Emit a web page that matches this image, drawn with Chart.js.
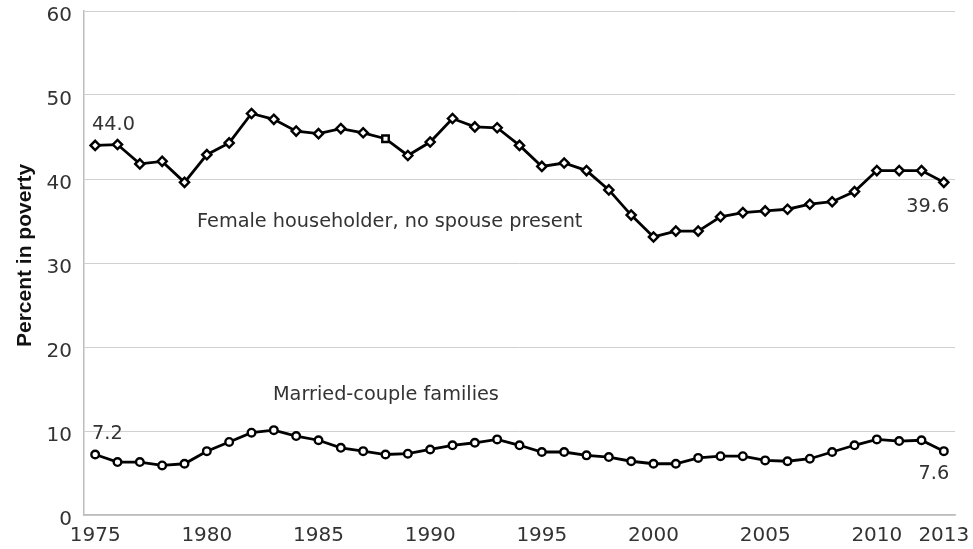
<!DOCTYPE html>
<html>
<head>
<meta charset="utf-8">
<script src="https://cdn.jsdelivr.net/npm/chart.js@4/dist/chart.umd.min.js"></script>
<style>
  html, body { margin: 0; padding: 0; background: #fff; }
  #wrap { width: 973px; height: 549px; position: relative; }
</style>
</head>
<body>
<div id="wrap"><canvas id="povertyChart"></canvas></div>
<script>
// Años (eje X)
const years = [1975, 1976, 1977, 1978, 1979, 1980, 1981, 1982, 1983, 1984, 1985,
  1986, 1987, 1988, 1989, 1990, 1991, 1992, 1993, 1994, 1995, 1996, 1997, 1998, 1999,
  2000, 2001, 2002, 2003, 2004, 2005, 2006, 2007, 2008, 2009, 2010, 2011, 2012, 2013];

// Porcentaje en pobreza
const femaleHouseholder = [44.0, 44.1, 41.8, 42.1, 39.6, 42.9, 44.3, 47.8, 47.1, 45.7, 45.4,
  46.0, 45.5, 44.8, 42.8, 44.4, 47.2, 46.2, 46.1, 44.0, 41.5, 41.9, 41.0, 38.7, 35.7,
  33.1, 33.8, 33.8, 35.5, 36.0, 36.2, 36.4, 37.0, 37.3, 38.5, 41.0, 41.0, 41.0, 39.6];

const marriedCouple = [7.2, 6.3, 6.3, 5.9, 6.1, 7.6, 8.7, 9.8, 10.1, 9.4, 8.9,
  8.0, 7.6, 7.2, 7.3, 7.8, 8.3, 8.6, 9.0, 8.3, 7.5, 7.5, 7.1, 6.9, 6.4,
  6.1, 6.1, 6.8, 7.0, 7.0, 6.5, 6.4, 6.7, 7.5, 8.3, 9.0, 8.8, 8.9, 7.6];

// Etiquetas de los ejes
const xTickYears = [1975, 1980, 1985, 1990, 1995, 2000, 2005, 2010, 2013];
const yTickValues = [0, 10, 20, 30, 40, 50, 60];
const yAxisTitle = 'Percent in poverty';
const squareMarkerYears = [1988];

// Textos sobre el gráfico (ancla en año / valor)
const annotations = [
  { text: '44.0', year: 1974.86, value: 46.4, align: 'left' },
  { text: 'Female householder, no spouse present', year: 1979.56, value: 34.9, align: 'left' },
  { text: '39.6', year: 2013.24, value: 36.7, align: 'right' },
  { text: 'Married-couple families', year: 1982.96, value: 14.3, align: 'left' },
  { text: '7.2', year: 1974.86, value: 9.6, align: 'left' },
  { text: '7.6', year: 2013.24, value: 4.9, align: 'right' },
];

const FONT = "'DejaVu Sans', sans-serif";

const toPoints = (vals) => vals.map((v, i) => ({ x: years[i], y: v }));

const annotationPlugin = {
  id: 'textAnnotations',
  afterDatasetsDraw(chart) {
    const { ctx, scales: { x, y } } = chart;
    ctx.save();
    ctx.font = `19.3px ${FONT}`;
    ctx.fillStyle = '#333';
    ctx.textBaseline = 'middle';
    for (const a of annotations) {
      ctx.textAlign = a.align;
      ctx.fillText(a.text, x.getPixelForValue(a.year), y.getPixelForValue(a.value));
    }
    ctx.restore();

    // Título del eje Y (rotado)
    ctx.save();
    ctx.translate(25, y.getPixelForValue(30.9));
    ctx.rotate(-Math.PI / 2);
    ctx.font = "bold 21px 'Liberation Sans', Arial, sans-serif";
    ctx.fillStyle = '#111';
    ctx.textAlign = 'center';
    ctx.textBaseline = 'middle';
    ctx.fillText(yAxisTitle, 0, 0);
    ctx.restore();
  },
};

const chart = new Chart(document.getElementById('povertyChart'), {
  type: 'line',
  data: {
    datasets: [
      {
        label: 'Female householder, no spouse present',
        data: toPoints(femaleHouseholder),
        borderColor: '#000',
        borderWidth: 2.8,
        pointStyle: (c) => squareMarkerYears.includes(years[c.dataIndex]) ? 'rect' : 'rectRot',
        pointRadius: 4.6,
        pointBorderWidth: 2.4,
        pointBackgroundColor: '#fff',
        pointBorderColor: '#000',
        tension: 0,
      },
      {
        label: 'Married-couple families',
        data: toPoints(marriedCouple),
        borderColor: '#000',
        borderWidth: 2.8,
        pointStyle: 'circle',
        pointRadius: 3.8,
        pointBorderWidth: 2.4,
        pointBackgroundColor: '#fff',
        pointBorderColor: '#000',
        tension: 0,
      },
    ],
  },
  options: {
    responsive: true,
    maintainAspectRatio: false,
    animation: false,
    layout: { padding: { top: 11, right: 18, left: 0, bottom: 0 } },
    plugins: {
      legend: { display: false },
      tooltip: { enabled: false },
    },
    scales: {
      x: {
        type: 'linear',
        min: 1974.5,
        max: 2013.5,
        afterBuildTicks: (scale) => { scale.ticks = xTickYears.map((v) => ({ value: v })); },
        afterFit: (scale) => { scale.height = 34; scale.paddingLeft = 0; scale.paddingRight = 0; },
        ticks: {
          autoSkip: false,
          maxRotation: 0,
          padding: 9,
          color: '#333',
          font: { family: FONT, size: 20 },
          callback: (v) => String(v),
        },
        grid: { display: false, drawTicks: false },
        border: { display: true, color: '#bdbdbd', width: 1.5 },
      },
      y: {
        min: 0,
        max: 60,
        afterBuildTicks: (scale) => { scale.ticks = yTickValues.map((v) => ({ value: v })); },
        afterFit: (scale) => { scale.width = 84; scale.paddingTop = 0; scale.paddingBottom = 0; },
        ticks: {
          padding: 12,
          labelOffset: 5,
          color: '#333',
          font: { family: FONT, size: 20 },
        },
        grid: { color: '#d0d0d0', lineWidth: 1, drawTicks: false },
        border: { display: true, color: '#bdbdbd', width: 1.5 },
      },
    },
  },
  plugins: [annotationPlugin],
});
</script>
</body>
</html>
